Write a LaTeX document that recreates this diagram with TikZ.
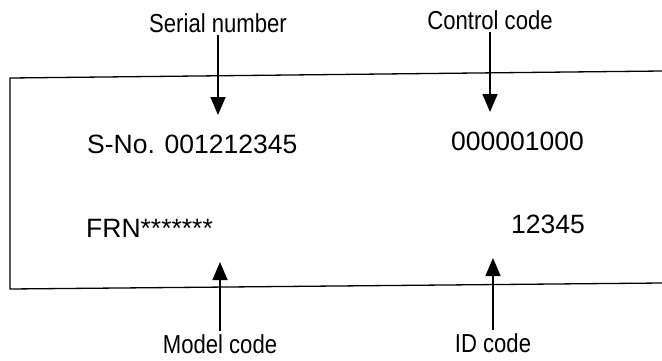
\documentclass[tikz,border=0pt]{standalone}
\usepackage{fontspec}
\setmainfont{Liberation Sans}
\newfontfamily\codefont{Liberation Sans}
\newfontfamily\tagfont[FakeStretch=0.85]{Liberation Sans}
\usetikzlibrary{arrows.meta}
\tikzset{
    tag/.style={font=\tagfont\fontsize{26}{30}\selectfont, inner sep=3pt},
    code/.style={font=\codefont\fontsize{26.5}{30}\selectfont, inner sep=0pt, anchor=base west},
    pointer/.style={line width=1.6pt, -{Triangle[width=15pt, length=18pt]}},
    plate/.style={line width=1.3pt}
}
\begin{document}
\begin{tikzpicture}[x=1pt, y=-1pt]
        \useasboundingbox (0,0) rectangle (662,360);

        % Plate outline (open to the right)
        \draw[plate] (662,71) -- (10,78) -- (10,289) -- (662,283);

        % Codes on the plate
        \node[code] (serialno) at (87,153) {S-No. 001212345};
        \node[code] (controlno) at (451,150) {000001000};
        \node[code] (modelno) at (86,237) {FRN*******};
        \node[code] (idno) at (511,233) {12345};

        % Labels
        \node[tag, anchor=base] (serial) at (218,32) {Serial number};
        \node[tag, anchor=base] (control) at (490,29) {Control code};
        \node[tag, anchor=base] (model) at (220,353) {Model code};
        \node[tag, anchor=base] (ident) at (493,352) {ID code};

        % Arrow tips
        \coordinate (serialtip) at (218,115);
        \coordinate (controltip) at (490,112);
        \coordinate (modeltip) at (220,262);
        \coordinate (identtip) at (493,258);

        % Pointers
        \draw[pointer] (serial) -- (serialtip);
        \draw[pointer] (control) -- (controltip);
        \draw[pointer] (model) -- (modeltip);
        \draw[pointer] (ident) -- (identtip);

    \end{tikzpicture}
\end{document}
